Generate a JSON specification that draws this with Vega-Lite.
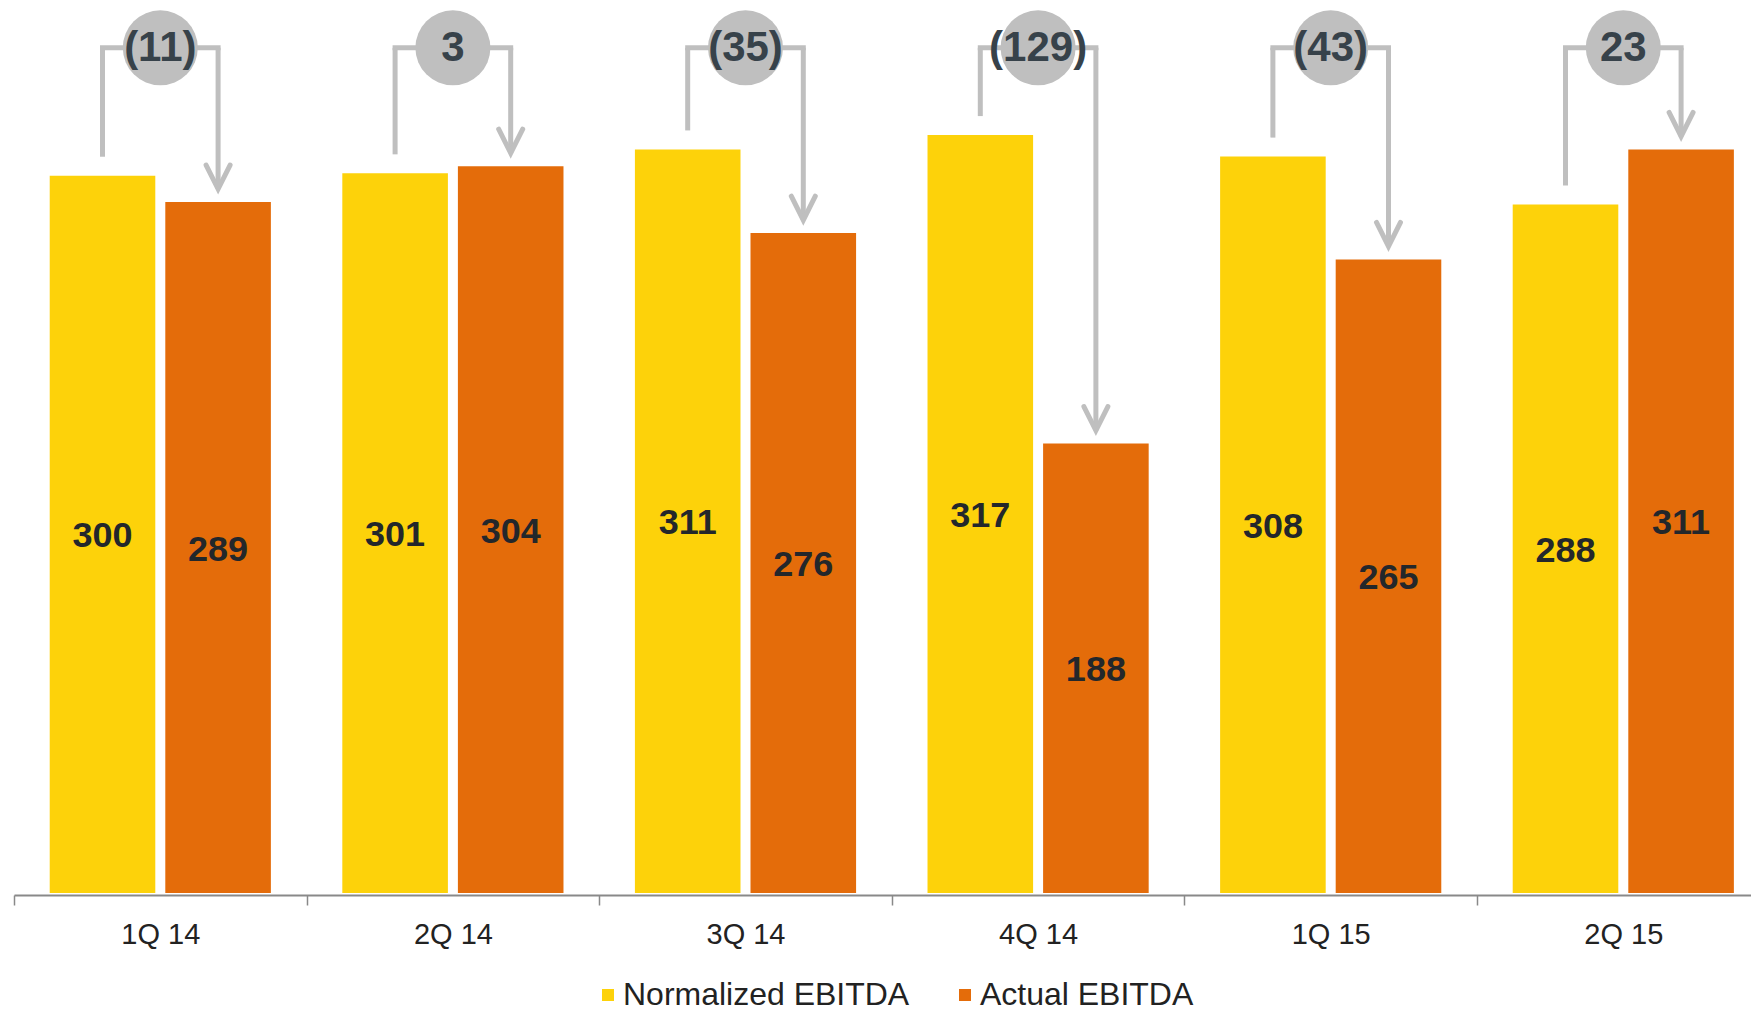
{
  "$schema": "https://vega.github.io/schema/vega-lite/v6.json",
  "width": 1755.6,
  "height": 893,
  "padding": {"left": 13, "top": 0, "right": 0, "bottom": 0},
  "background": "white",
  "config": {
    "view": {"stroke": null},
    "font": "Liberation Sans"
  },
  "data": {
    "values": [
      {"q": "1Q 14", "Normalized EBITDA": 300, "Actual EBITDA": 289, "diff": "(11)"},
      {"q": "2Q 14", "Normalized EBITDA": 301, "Actual EBITDA": 304, "diff": "3"},
      {"q": "3Q 14", "Normalized EBITDA": 311, "Actual EBITDA": 276, "diff": "(35)"},
      {"q": "4Q 14", "Normalized EBITDA": 317, "Actual EBITDA": 188, "diff": "(129)"},
      {"q": "1Q 15", "Normalized EBITDA": 308, "Actual EBITDA": 265, "diff": "(43)"},
      {"q": "2Q 15", "Normalized EBITDA": 288, "Actual EBITDA": 311, "diff": "23"}
    ]
  },
  "encoding": {
    "x": {
      "field": "q", "type": "nominal", "sort": null,
      "scale": {"paddingInner": 0, "paddingOuter": 0},
      "axis": {
        "title": null, "labelAngle": 0, "labelFontSize": 29, "labelColor": "#222222",
        "labelFont": "Liberation Sans", "labelBaseline": "middle", "labelPadding": 30,
        "domainColor": "#898989", "domainWidth": 2, "tickColor": "#898989", "tickWidth": 1.5,
        "tickSize": 10, "offset": 2, "tickBand": "extent", "grid": false
      }
    }
  },
  "resolve": {"scale": {"y": "independent"}},
  "layer": [
    {
      "transform": [{"fold": ["Normalized EBITDA", "Actual EBITDA"], "as": ["series", "value"]}],
      "mark": {"type": "bar"},
      "encoding": {
        "xOffset": {"field": "series", "type": "nominal", "sort": ["Normalized EBITDA", "Actual EBITDA"],
          "scale": {"paddingInner": 0.0865, "paddingOuter": 0.309}},
        "y": {"field": "value", "type": "quantitative", "scale": {"domain": [0, 373.5], "nice": false}, "axis": null},
        "color": {
          "field": "series", "type": "nominal", "sort": ["Normalized EBITDA", "Actual EBITDA"],
          "scale": {"domain": ["Normalized EBITDA", "Actual EBITDA"], "range": ["#FDD20A", "#E46C0A"]},
          "legend": {
            "title": null, "orient": "none", "legendX": 578, "legendY": 979, "direction": "horizontal",
            "symbolType": "square", "symbolSize": 144, "symbolStrokeWidth": 0, "labelFontSize": 32,
            "labelFont": "Liberation Sans", "labelColor": "#222222", "labelOffset": -1, "labelLimit": 0,
            "columnPadding": 39, "padding": 0
          }
        }
      }
    },
    {
      "transform": [{"fold": ["Normalized EBITDA", "Actual EBITDA"], "as": ["series", "value"]}],
      "mark": {"type": "text", "fontSize": 36, "fontWeight": "bold", "color": "#23272b", "baseline": "middle", "font": "Liberation Sans", "dy": 2},
      "encoding": {
        "xOffset": {"field": "series", "type": "nominal", "sort": ["Normalized EBITDA", "Actual EBITDA"]},
        "y": {"field": "value", "type": "quantitative", "scale": {"domain": [0, 747], "nice": false}, "axis": null},
        "text": {"field": "value", "type": "quantitative", "format": "d"}
      }
    },
    {
      "mark": {"type": "rule", "color": "#BFBFBF", "strokeWidth": 5, "xOffset": -57.8, "yOffset": -19},
      "encoding": {
        "y": {"field": "Normalized EBITDA", "type": "quantitative", "scale": {"domain": [0, 373.5], "nice": false}, "axis": null},
        "y2": {"datum": 353.5}
      }
    },
    {
      "mark": {"type": "rule", "color": "#BFBFBF", "strokeWidth": 5, "xOffset": 57.8, "yOffset": -13},
      "encoding": {
        "y": {"field": "Actual EBITDA", "type": "quantitative", "scale": {"domain": [0, 373.5], "nice": false}, "axis": null},
        "y2": {"datum": 353.5}
      }
    },
    {
      "mark": {"type": "rule", "color": "#BFBFBF", "strokeWidth": 5, "strokeCap": "square", "xOffset": -57.8, "x2Offset": 57.8},
      "encoding": {
        "x2": {"field": "q"},
        "y": {"datum": 353.5, "type": "quantitative", "scale": {"domain": [0, 373.5], "nice": false}, "axis": null}
      }
    },
    {
      "mark": {"type": "point", "shape": "M-1,-2L0,0L1,-2", "size": 576, "filled": false, "stroke": "#BFBFBF", "strokeWidth": 5, "strokeCap": "round", "strokeJoin": "miter", "opacity": 1, "xOffset": 57.8, "yOffset": -13},
      "encoding": {
        "y": {"field": "Actual EBITDA", "type": "quantitative", "scale": {"domain": [0, 373.5], "nice": false}, "axis": null}
      }
    },
    {
      "mark": {"type": "point", "shape": "circle", "size": 5625, "filled": true, "fill": "#BFBFBF", "opacity": 1, "strokeWidth": 0},
      "encoding": {
        "y": {"datum": 353.5, "type": "quantitative", "scale": {"domain": [0, 373.5], "nice": false}, "axis": null}
      }
    },
    {
      "mark": {"type": "text", "fontSize": 42, "fontWeight": "bold", "color": "#37424A", "baseline": "middle", "font": "Liberation Sans"},
      "encoding": {
        "y": {"datum": 353.5, "type": "quantitative", "scale": {"domain": [0, 373.5], "nice": false}, "axis": null},
        "text": {"field": "diff", "type": "nominal"}
      }
    }
  ]
}
